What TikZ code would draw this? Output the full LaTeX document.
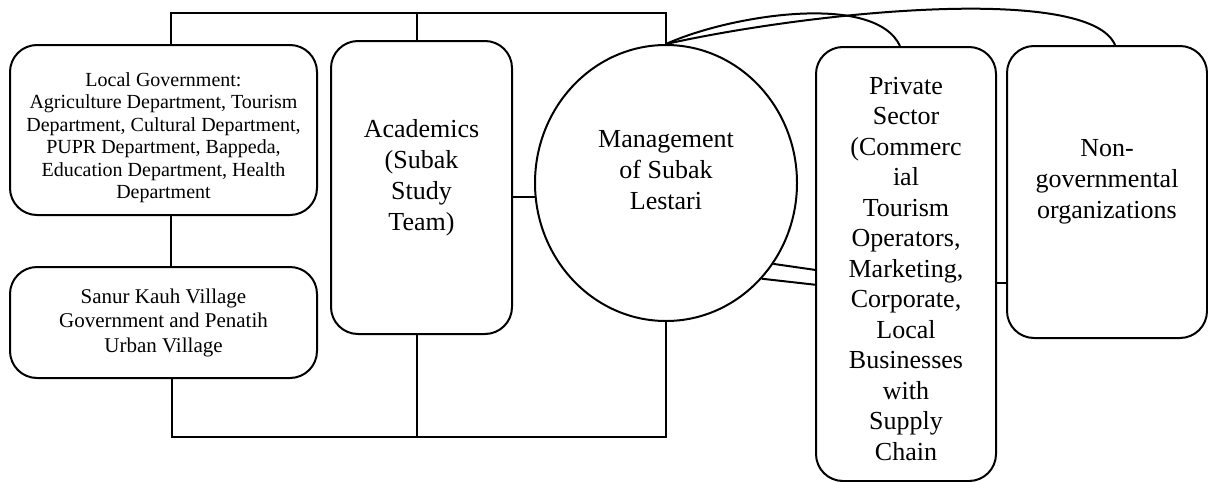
\documentclass[tikz,border=0pt]{standalone}
\usepackage{fontspec}
\setmainfont{Liberation Serif}
\usepackage{tikz}
\usetikzlibrary{positioning,shapes.geometric,calc}

\begin{document}
\begin{tikzpicture}[x=1pt,y=-1pt,
  box/.style={draw, line width=2pt, rounded corners=27pt, align=center, inner sep=0pt},
  link/.style={line width=2pt},
  small/.style={font=\fontsize{20}{22.5}\selectfont},
  mid/.style={font=\fontsize{21}{24.5}\selectfont},
  big/.style={font=\fontsize{26}{31}\selectfont}]
\useasboundingbox (0,0) rectangle (1208,482);

% Boxes
\node[box, small, minimum width=307pt, minimum height=170pt] (gov) at (163.5,130)
  {\rule{0pt}{29pt}Local Government:\\Agriculture Department, Tourism\\Department, Cultural Department,\\PUPR Department, Bappeda,\\Education Department, Health\\Department};
\node[box, mid, minimum width=307pt, minimum height=111pt] (sanur) at (163.5,322.5)
  {Sanur Kauh Village\\Government and Penatih\\Urban Village};
\node[box, big, minimum width=181pt, minimum height=293pt] (acad) at (421.5,187.5)
  {Academics\\(Subak\\Study\\Team)\\[-6pt]};
\node[draw, ellipse, line width=2pt, big, align=center, inner sep=0pt,
  minimum width=262pt, minimum height=276pt] (circ) at (666,183)
  {Management\\of Subak\\Lestari\\[-4pt]};
\node[box, big, font=\fontsize{26}{30.5}\selectfont, minimum width=180pt, minimum height=434pt] (priv) at (906,264)
  {\rule{0pt}{27pt}Private\\Sector\\(Commerc\\ial\\Tourism\\Operators,\\Marketing,\\Corporate,\\Local\\Businesses\\with\\Supply\\Chain};
\node[box, big, minimum width=200pt, minimum height=292pt] (ngo) at (1107,192)
  {Non-\\governmental\\organizations\\[-4pt]};

% Bus points
\coordinate (busTL) at (171,13);
\coordinate (busTA) at (417,13);
\coordinate (busTR) at (666,13);
\coordinate (busBL) at (172,437);
\coordinate (busBA) at (417,437);
\coordinate (busBR) at (666,437);

% Top and bottom lines
\draw[link] (gov.north -| busTL) -- (busTL) -- (busTR) -- (circ.north);
\draw[link] (acad.north -| busTA) -- (busTA);
\draw[link] (gov.south -| busTL) -- (sanur.north -| busTL);
\draw[link] (sanur.south -| busBL) -- (busBL) -- (busBR) -- (circ.south);
\draw[link] (acad.south -| busBA) -- (busBA);

% Side links
\draw[link] (circ.186) -- (circ.186 -| acad.east);
\draw[link] (circ.-37) -- ([yshift=-6pt]circ.-37 -| priv.west);
\draw[link] (circ.-45) -- ([yshift=-6pt]circ.-45 -| priv.west);
\draw[link] ([yshift=-19pt]priv.east) -- ([yshift=-19pt]priv.east -| ngo.west);

% Arcs over the top
\draw[link] (circ.north) .. controls (730,15) and (875,-8) .. ([xshift=-6pt]priv.north);
\draw[link] (circ.north) .. controls (820,10) and (1090,-15) .. ([xshift=8pt]ngo.north);
\end{tikzpicture}
\end{document}
